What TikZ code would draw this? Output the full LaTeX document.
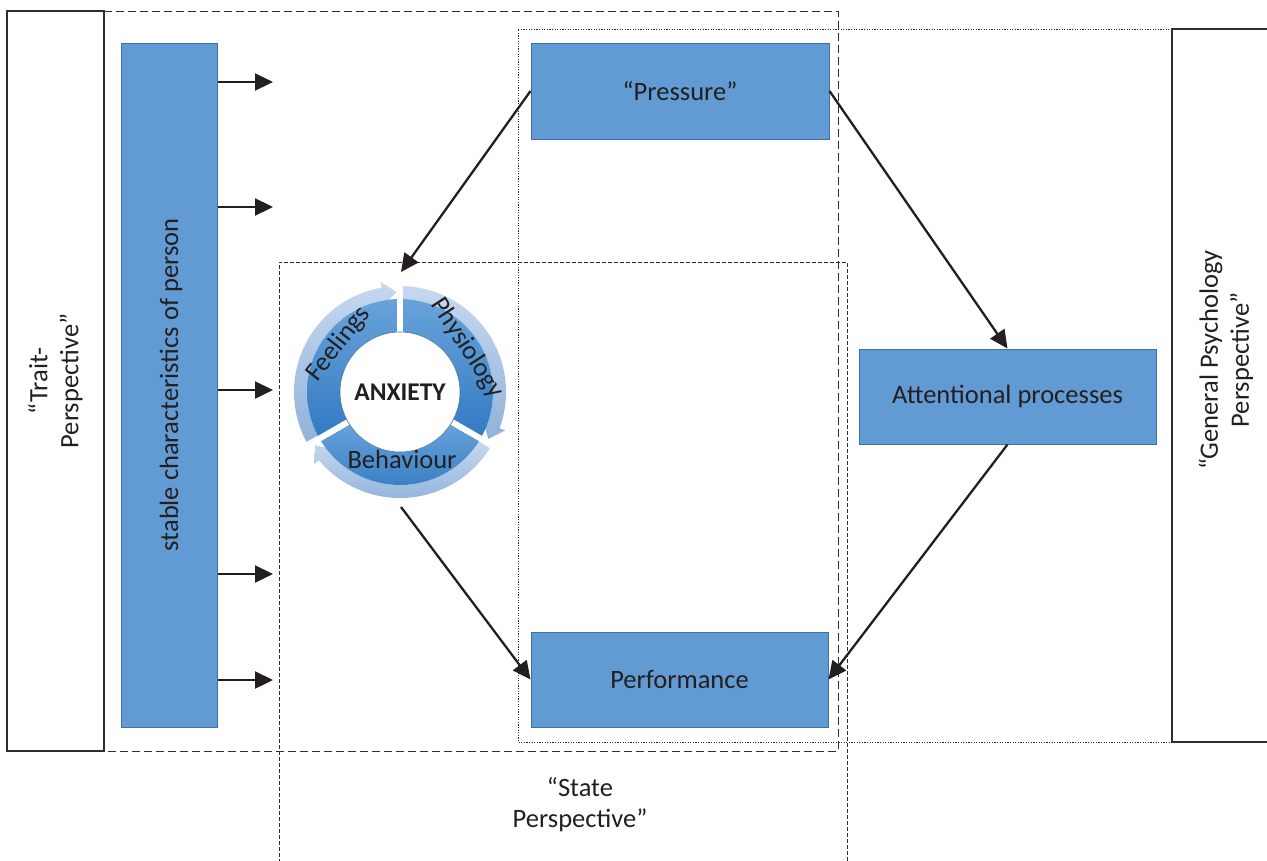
\documentclass[tikz,border=0pt]{standalone}
\usepackage{fontspec}
\setmainfont{Carlito}
\usetikzlibrary{arrows.meta,calc}

\definecolor{boxfill}{RGB}{98,155,211}
\definecolor{boxline}{RGB}{65,113,160}
\definecolor{ringdarktop}{RGB}{104,163,218}
\definecolor{ringdarkbot}{RGB}{50,122,194}
\definecolor{ringlighttop}{RGB}{198,216,239}
\definecolor{ringlightbot}{RGB}{146,178,220}
\definecolor{framegrey}{RGB}{45,45,45}
\definecolor{txt}{RGB}{35,31,32}

\begin{document}
\begin{tikzpicture}[x=1pt,y=-1pt,
  font=\fontsize{26.5}{31}\selectfont, text=txt,
  bluebox/.style={draw=boxline, line width=1pt, fill=boxfill, inner sep=0pt},
  flow/.style={draw=txt, line width=2.3pt, -{Triangle[length=18pt,width=17pt]}},
  region/.style={draw=framegrey, line width=1.2pt},
  bigdash/.style={draw=framegrey, line width=1pt, dash pattern=on 8pt off 4pt},
  smalldash/.style={draw=framegrey, line width=1pt, dash pattern=on 4pt off 2pt},
  dotline/.style={draw=framegrey, line width=1pt, dash pattern=on 1.2pt off 1.4pt},
  ringlabel/.style={font=\fontsize{26.5}{31}\selectfont, inner sep=0pt},
]
\useasboundingbox (0,0) rectangle (1267,860);

% perspective frames
\draw[bigdash] (104,11) rectangle (838,751);
\node[region, rotate=90, minimum width=740pt, minimum height=97pt, align=center, inner sep=0pt]
  (trait) at (55.5,381) {“Trait-\\Perspective”};
\draw[dotline] (1172,29) -- (518,29) -- (518,742) -- (1172,742);
\draw[region] (1275,29) -- (1172,29) -- (1172,742) -- (1275,742);
\node[rotate=90, align=center] (general) at (1226,360) {“General Psychology\\Perspective”};
\draw[smalldash] (279,875) -- (279,262) -- (847,262) -- (847,875);
\node[align=center] (state) at (580,805) {“State\\Perspective”};

% boxes
\node[bluebox, minimum width=96pt, minimum height=684pt] (stable) at (169,385) {};
\node[rotate=90] (stabletext) at (171,385) {stable characteristics of person};
\node[bluebox, minimum width=298pt, minimum height=96pt] (pressure) at (680,91) {“Pressure”};
\node[bluebox, minimum width=297pt, minimum height=95pt] (attn) at (1007.5,396.5) {Attentional processes};
\node[bluebox, minimum width=297pt, minimum height=95pt] (perf) at (679.5,679.5) {Performance};

% anxiety cycle
\begin{scope}[shift={(400,392)}, y=1pt]
  \foreach \a in {210,90,-30} {
    \pgfmathsetmacro\b{\a-120}
    \pgfmathsetmacro\ta{\a-2}
    \pgfmathsetmacro\hb{\b+10}
    \pgfmathsetmacro\tip{\b+2}
    \shade[top color=ringlighttop, bottom color=ringlightbot]
      (\ta:93) arc[start angle=\ta, end angle=\hb, radius=93]
      -- (\hb:89) -- (\tip:100) -- (\hb:112) -- (\hb:106)
      arc[start angle=\hb, end angle=\ta, radius=106] -- cycle;
    \shade[top color=ringdarktop, bottom color=ringdarkbot]
      (\a:60) arc[start angle=\a, end angle=\b, radius=60]
      -- (\b:93) arc[start angle=\b, end angle=\a, radius=93] -- cycle;
  }
  \foreach \a in {210,90,-30}
    \draw[white, line width=6pt] (\a:58) -- (\a:96);
  \node[ringlabel, rotate=52] (feel) at (142:78) {Feelings};
  \node[ringlabel, rotate=-57] (phys) at (33:80) {Physiology};
  \node[ringlabel] (behav) at (2,-67) {Behaviour};
\end{scope}
\node[circle, fill=white, draw=boxline, line width=0.6pt, minimum size=120pt, inner sep=0pt,
  font=\bfseries\fontsize{25.5}{30}\selectfont] (anx) at (400,392) {ANXIETY};

% free ends of connectors
\coordinate (ringtop) at (401,272);
\coordinate (ringbot) at (401,507);
\foreach \n/\y in {1/82,2/207,3/390,4/574,5/680}
  \coordinate (t\n) at (273,\y);

% connectors
\foreach \n in {1,...,5}
  \draw[flow] (stable.east |- t\n) -- (t\n);
\draw[flow] (pressure.west) -- (ringtop);
\draw[flow] (pressure.east) -- (attn.north);
\draw[flow] (attn.south) -- (perf.east);
\draw[flow] (ringbot) -- (perf.west);
\end{tikzpicture}
\end{document}
